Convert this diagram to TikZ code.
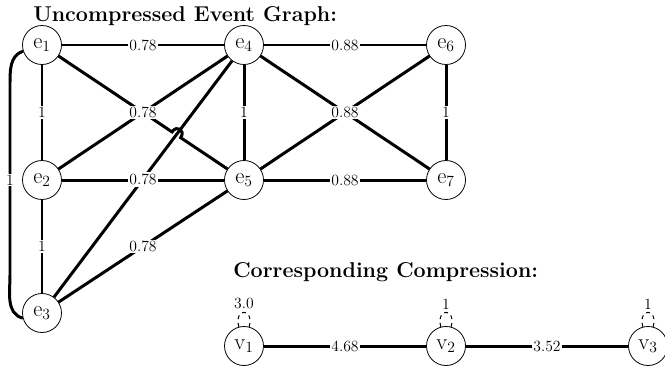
\documentclass[tikz,border=0pt]{standalone}
\usetikzlibrary{calc}
\begin{document}
\begin{tikzpicture}[x=0.7692pt,y=0.7692pt,
  ev/.style={circle,draw,line width=0.6pt,minimum size=30pt,inner sep=0pt,font=\LARGE,fill=white},
  ed/.style={line width=2.3pt},
  lbl/.style={fill=white,inner sep=1pt,font=\large},
  hd/.style={font=\fontsize{16.5}{20}\selectfont\bfseries,anchor=base west,inner sep=0pt},
  lp/.style={dashed,line width=0.8pt}]
\useasboundingbox (0,0) rectangle (665,-365);
% titles
\node[hd] (t1) at (33,-21) {Uncompressed Event Graph:};
\node[hd] (t2) at (233,-277) {Corresponding Compression:};
% event nodes
\node[ev] (e1) at (42,-45) {e$_1$};
\node[ev] (e4) at (244,-45) {e$_4$};
\node[ev] (e6) at (446,-45) {e$_6$};
\node[ev] (e2) at (42,-180) {e$_2$};
\node[ev] (e5) at (244,-180) {e$_5$};
\node[ev] (e7) at (446,-180) {e$_7$};
\node[ev] (e3) at (42,-313) {e$_3$};
% compressed nodes
\node[ev] (v1) at (244,-346) {v$_1$};
\node[ev] (v2) at (446,-346) {v$_2$};
\node[ev] (v3) at (648,-346) {v$_3$};
% crossing with hop
\coordinate (X) at (intersection of e1.center--e5.center and e4.center--e3.center);
\coordinate (HA) at ($(X)!4pt!(e1.center)$);
\coordinate (HB) at ($(X)!4pt!(e5.center)$);
% edges
\draw[ed] (e1) -- (e4);
\draw[ed] (e1) -- (e2);
\draw[ed] (e2) -- (e3);
\draw[ed] (e2) -- (e5);
\draw[ed] (e4) -- (e2);
\draw[ed] (e4) -- (e3);
\draw[ed] (e1) -- (HA) to[out=56,in=56,looseness=2.2] (HB) -- (e5);
\draw[ed] (e5) -- (e3);
\draw[ed] (e4) -- (e5);
\draw[ed] (e4) -- (e6);
\draw[ed] (e4) -- (e7);
\draw[ed] (e6) -- (e5);
\draw[ed] (e5) -- (e7);
\draw[ed] (e6) -- (e7);
\draw[ed] (e1.198) to[out=198,in=90] (10,-85) -- (10,-275) to[out=-90,in=165] (e3.195);
\draw[ed] (v1) -- (v2);
\draw[ed] (v2) -- (v3);
% labels
\path (e1) -- node[lbl]{0.78} (e4);
\path (e1) -- node[lbl]{1} (e2);
\path (e2) -- node[lbl]{1} (e3);
\path (e2) -- node[lbl]{0.78} (e5);
\path (e4) -- node[lbl]{0.78} (e2);
\path (e1) -- node[lbl]{0.78} (e5);
\path (e4) -- node[lbl]{0.78} (e3);
\path (e5) -- node[lbl]{0.78} (e3);
\path (e4) -- node[lbl]{1} (e5);
\path (e4) -- node[lbl]{0.88} (e6);
\path (e4) -- node[lbl]{0.88} (e7);
\path (e6) -- node[lbl]{0.88} (e5);
\path (e5) -- node[lbl]{0.88} (e7);
\path (e6) -- node[lbl]{1} (e7);
\node[lbl] (c13) at (10,-180) {1};
\path (v1) -- node[lbl]{4.68} (v2);
\path (v2) -- node[lbl]{3.52} (v3);
% self loops
\draw[lp] (v1.105) .. controls +(105:20) and +(75:20) .. (v1.75) node[pos=0.5,above=1pt,inner sep=1pt,font=\large] (l1) {3.0};
\draw[lp] (v2.105) .. controls +(105:20) and +(75:20) .. (v2.75) node[pos=0.5,above=1pt,inner sep=1pt,font=\large] (l2) {1};
\draw[lp] (v3.105) .. controls +(105:20) and +(75:20) .. (v3.75) node[pos=0.5,above=1pt,inner sep=1pt,font=\large] (l3) {1};
\end{tikzpicture}
\end{document}
